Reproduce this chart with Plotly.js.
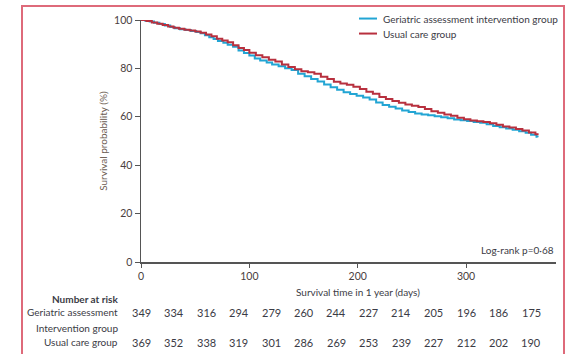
<!DOCTYPE html>
<html>
<head>
<meta charset="utf-8">
<script src="https://cdn.plot.ly/plotly-3.0.1.min.js"></script>
<style>
html,body{margin:0;padding:0;background:#fff;}
#frame{position:absolute;left:21px;top:5px;width:540px;height:400px;border:2px solid #de6a7a;border-bottom:none;box-sizing:content-box;}
#chart{position:absolute;left:0;top:0;width:566px;height:354px;}
</style>
</head>
<body>
<div id="frame"></div>
<div id="chart"></div>
<script>
// Kaplan-Meier step data
const gaDays = [0,4,8,12,17,22,27,31,36,41,46,51,55,59,63,67,71,76,80,85,90,95,100,105,110,116,121,127,133,139,145,151,157,163,169,175,181,187,193,199,205,211,217,223,229,235,241,247,253,259,265,271,277,283,289,295,301,307,313,319,325,331,337,343,349,355,360,365,366];
const gaSurv = [100,99.7,99.4,98.9,98.3,97.7,97.1,96.6,96.2,95.9,95.5,95.0,94.5,93.7,92.9,92.1,91.3,90.6,89.8,88.9,87.4,86.4,85.3,84.1,83.3,82.4,81.6,80.9,80.1,79.3,77.8,76.8,75.6,74.6,73.3,72.2,71.2,70.1,69.4,68.7,68.0,67.1,65.9,64.9,64.2,63.4,62.6,62.0,61.4,61.0,60.6,60.2,59.8,59.4,58.9,58.6,58.3,57.9,57.5,56.9,56.2,55.7,55.2,54.7,54.0,53.4,52.6,51.8,51.6];
const ucDays = [0,5,10,15,20,25,30,35,40,45,50,55,60,65,70,75,80,85,90,95,100,106,112,118,124,130,136,142,148,154,160,166,172,178,184,190,196,202,208,214,220,226,232,238,244,250,256,262,268,274,280,286,292,298,304,310,316,322,328,334,340,346,352,358,364,366];
const ucSurv = [100,99.6,99.0,98.5,97.9,97.3,96.8,96.4,96.0,95.7,95.2,94.7,94.0,93.3,92.3,91.5,90.8,89.6,88.4,87.6,86.5,85.4,84.6,83.6,82.8,81.6,80.6,79.6,78.8,78.4,77.8,76.6,75.6,74.5,73.8,73.2,72.4,71.5,70.4,69.5,68.2,67.4,66.5,65.8,65.1,64.6,64.0,63.2,62.3,61.7,61.0,60.4,59.6,59.0,58.5,58.2,57.9,57.3,56.7,56.0,55.6,55.0,54.3,53.5,52.8,52.4];

// Number at risk
const riskDays = [0,30,60,90,120,150,180,210,240,270,300,330,360];
const riskGA = [349,334,316,294,279,260,244,227,214,205,196,186,175];
const riskUC = [369,352,338,319,301,286,269,253,239,227,212,202,190];

const seriesNames = ["Geriatric assessment intervention group","Usual care group"];
const seriesColors = ['#22a5d4','#b8303e'];
const xTicks = [0,100,200,300];
const yTicks = [0,20,40,60,80,100];

const FONT = "Lato, 'Liberation Sans', sans-serif";
const txt = "#3b3b45";

const traces = [
  {x: gaDays, y: gaSurv, type:'scatter', mode:'lines', line:{shape:'hv', color:seriesColors[0], width:2}, name: seriesNames[0], showlegend:false},
  {x: ucDays, y: ucSurv, type:'scatter', mode:'lines', line:{shape:'hv', color:seriesColors[1], width:2}, name: seriesNames[1], showlegend:false}
];

const ann = [];
const shapes = [];
const yTop = -0.208, yBot = -0.332;
riskDays.forEach((d,i)=>{
  ann.push({x:d, y:yTop, xref:'x', yref:'paper', text:String(riskGA[i]), showarrow:false, xanchor:'center', yanchor:'middle', font:{size:11, color:txt, family:FONT}});
  ann.push({x:d, y:yBot, xref:'x', yref:'paper', text:String(riskUC[i]), showarrow:false, xanchor:'center', yanchor:'middle', font:{size:11, color:txt, family:FONT}});
});
const lab = (t, ypaper, bold) => ({x:-0.05, y:ypaper, xref:'paper', yref:'paper', text: bold ? '<b>'+t+'</b>' : t, showarrow:false, xanchor:'right', yanchor:'middle', font:{size:10, color:txt, family:FONT}});
ann.push(lab('Number at risk', -0.151, true));
ann.push(lab('Geriatric assessment', yTop, false));
ann.push(lab('Intervention group', -0.274, false));
ann.push(lab('Usual care group', yBot, false));
ann.push({x:0.523, y:-0.126, xref:'paper', yref:'paper', text:'Survival time in 1 year (days)', showarrow:false, xanchor:'center', yanchor:'middle', font:{size:10, color:txt, family:FONT}});
ann.push({x:1, y:0.05, xref:'paper', yref:'paper', text:'Log-rank p=0·68', showarrow:false, xanchor:'right', yanchor:'middle', font:{size:10, color:txt, family:FONT}});
ann.push({x:-0.092, y:0.5, xref:'paper', yref:'paper', text:'Survival probability (%)', textangle:-90, showarrow:false, xanchor:'center', yanchor:'middle', font:{size:10, color:'#6b5a50', family:FONT}});

// custom legend
const legY = [1.006, 0.944];
seriesNames.forEach((n,i)=>{
  shapes.push({type:'line', xref:'paper', yref:'paper', x0:0.5253, x1:0.5687, y0:legY[i], y1:legY[i], line:{color:seriesColors[i], width:2}});
  ann.push({x:0.578, y:legY[i], xref:'paper', yref:'paper', text:n, showarrow:false, xanchor:'left', yanchor:'middle', font:{size:10, color:txt, family:FONT}});
});

const layout = {
  width:566, height:354,
  margin:{l:141, r:10, t:20, b:91.5, autoexpand:false},
  paper_bgcolor:'rgba(0,0,0,0)', plot_bgcolor:'rgba(0,0,0,0)',
  showlegend:false,
  xaxis:{range:[0,383], autorange:false, tickvals:xTicks, ticks:'outside', ticklen:4, tickcolor:'#555', showgrid:false, zeroline:false, showline:true, linecolor:'#555', linewidth:1.5, tickfont:{size:10.5, color:'#4a4040', family:FONT}},
  yaxis:{range:[0,100], autorange:false, tickvals:yTicks, ticks:'outside', ticklen:5, tickcolor:'#555', showgrid:false, zeroline:false, showline:true, linecolor:'#555', linewidth:1.5, tickfont:{size:10.5, color:'#4a4040', family:FONT}},
  annotations: ann,
  shapes: shapes
};
Plotly.newPlot('chart', traces, layout, {displayModeBar:false, staticPlot:true});
</script>
</body>
</html>
